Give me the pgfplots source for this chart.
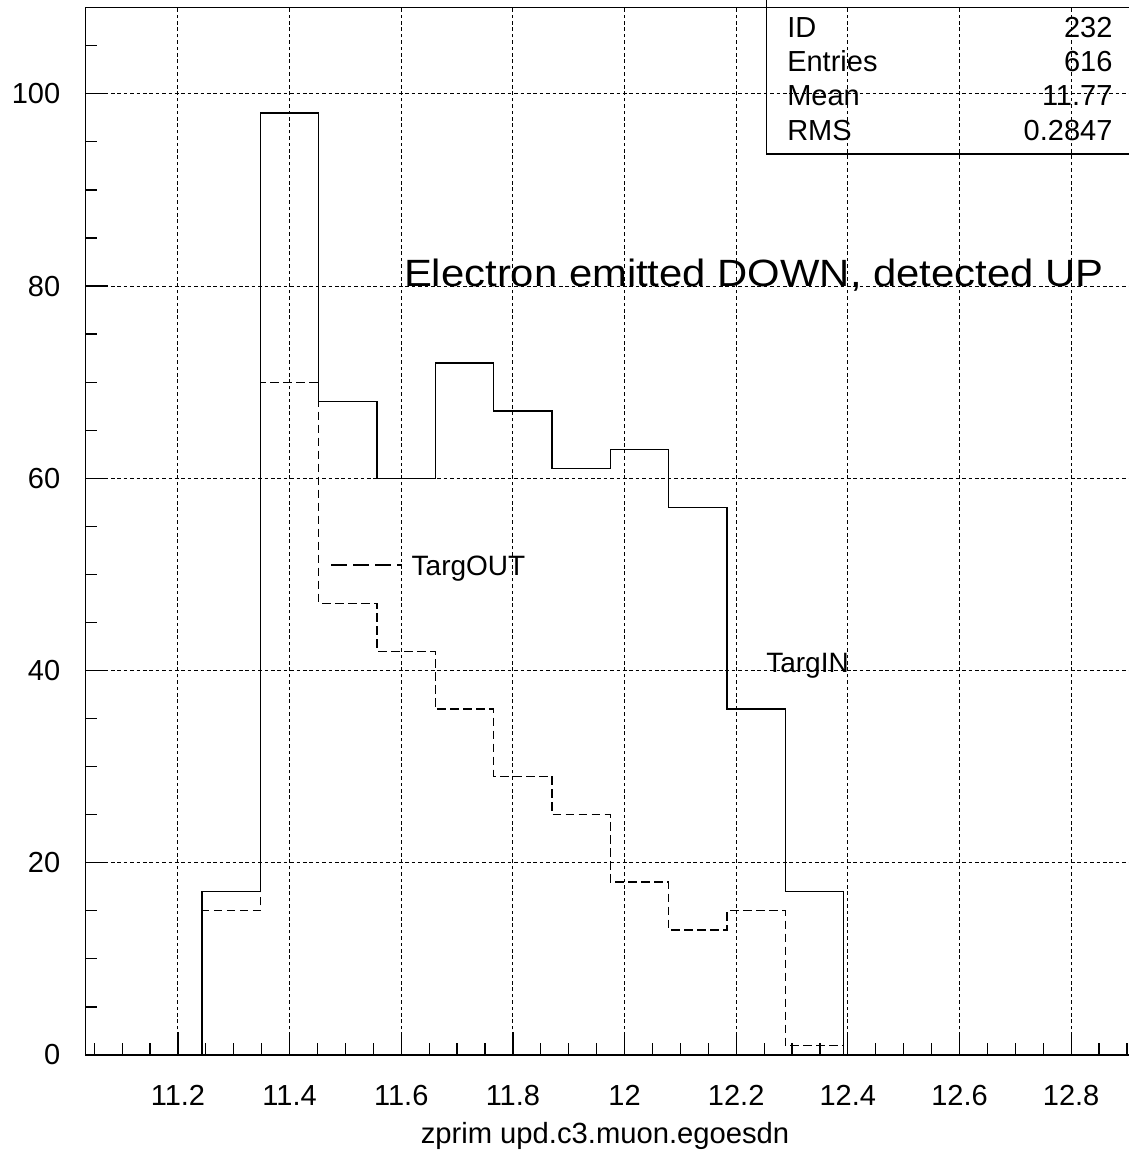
\documentclass[border=0pt]{standalone}
\usepackage{fontspec}
\setmainfont{Liberation Sans}
\usepackage{pgfplots}
\pgfplotsset{compat=1.18}
\begin{document}
\begin{tikzpicture}
\begin{axis}[
  at={(0,0)}, anchor=south west,
  scale only axis,
  width=525pt, height=523.85pt,
  xmin=11.034, xmax=12.915,
  ymin=0, ymax=109,
  clip=false,
  axis line style={line width=0.7pt, black},
  xtick={11.2,11.4,11.6,11.8,12,12.2,12.4,12.6,12.8},
  minor xtick={11.05,11.10,11.15,11.25,11.30,11.35,11.45,11.50,11.55,11.65,11.70,11.75,11.85,11.90,11.95,12.05,12.10,12.15,12.25,12.30,12.35,12.45,12.50,12.55,12.65,12.70,12.75,12.85,12.90},
  ytick={0,20,40,60,80,100},
  minor ytick={5,10,15,25,30,35,45,50,55,65,70,75,85,90,95,105},
  tick align=inside,
  xtick pos=left, ytick pos=left,
  major tick length=11.5pt, minor tick length=6pt,
  tick style={line width=0.6pt, black},
  xmajorgrids, ymajorgrids,
  major grid style={line width=0.5pt, dash pattern=on 1.8pt off 1.4pt, black},
  tick label style={font=\fontsize{14.5}{15}\selectfont},
  /pgf/number format/assume math mode=true,
  xticklabel style={yshift=-11.5pt},
  yticklabel style={xshift=-9pt},
]
% TargIN (solid)
\addplot[const plot, black, line width=0.6pt] coordinates {
 (11.243,0) (11.243,17) (11.3475,98) (11.452,68) (11.5565,60) (11.661,72) (11.7655,67)
 (11.870,61) (11.9745,63) (12.079,57) (12.1835,36) (12.288,17) (12.3925,0)
};
% TargOUT (dashed)
\addplot[const plot, black, line width=0.6pt, dash pattern=on 4.3pt off 2.2pt] coordinates {
 (11.243,0) (11.243,15) (11.3475,70) (11.452,47) (11.5565,42) (11.661,36) (11.7655,29)
 (11.870,25) (11.9745,18) (12.079,13) (12.1835,15) (12.288,1) (12.3925,0)
};
% labels
\draw[black, line width=0.6pt, dash pattern=on 8pt off 3pt] (axis cs:11.4749,50.97) -- (axis cs:11.6007,50.97);
\node[anchor=base west, inner sep=0pt, font=\fontsize{14}{14}\selectfont] at (axis cs:11.618,49.93) {TargOUT};
\node[anchor=base west, inner sep=0pt, font=\fontsize{14}{14}\selectfont] at (axis cs:12.2532,39.84) {TargIN};
\node[anchor=base west, inner sep=0pt] at (axis cs:11.6044,80) {\scalebox{1.1}[1]{\fontsize{19}{19}\selectfont Electron emitted DOWN, detected UP}};
% stats box
\draw[black, line width=0.7pt] (axis cs:12.2545,120) -- (axis cs:12.2545,93.73) -- (axis cs:13.1,93.73);
\begin{scope}[every node/.style={inner sep=0pt, font=\fontsize{14.5}{14.5}\selectfont}]
\node[anchor=base west] at (axis cs:12.2908,105.85) {ID};
\node[anchor=base east] at (axis cs:12.8747,105.85) {232};
\node[anchor=base west] at (axis cs:12.2908,102.29) {Entries};
\node[anchor=base east] at (axis cs:12.8747,102.29) {616};
\node[anchor=base west] at (axis cs:12.2908,98.73) {Mean};
\node[anchor=base east] at (axis cs:12.8747,98.73) {11.77};
\node[anchor=base west] at (axis cs:12.2908,95.17) {RMS};
\node[anchor=base east] at (axis cs:12.8747,95.17) {0.2847};
\end{scope}
\node[anchor=base, inner sep=0pt, yshift=-44pt, font=\fontsize{14.6}{15}\selectfont] at (axis cs:11.965,0) {zprim upd.c3.muon.egoesdn};
\end{axis}
\pgfresetboundingbox
\useasboundingbox (-42.65pt,-55pt) rectangle (521.35pt,527.5pt);
\end{tikzpicture}
\end{document}
